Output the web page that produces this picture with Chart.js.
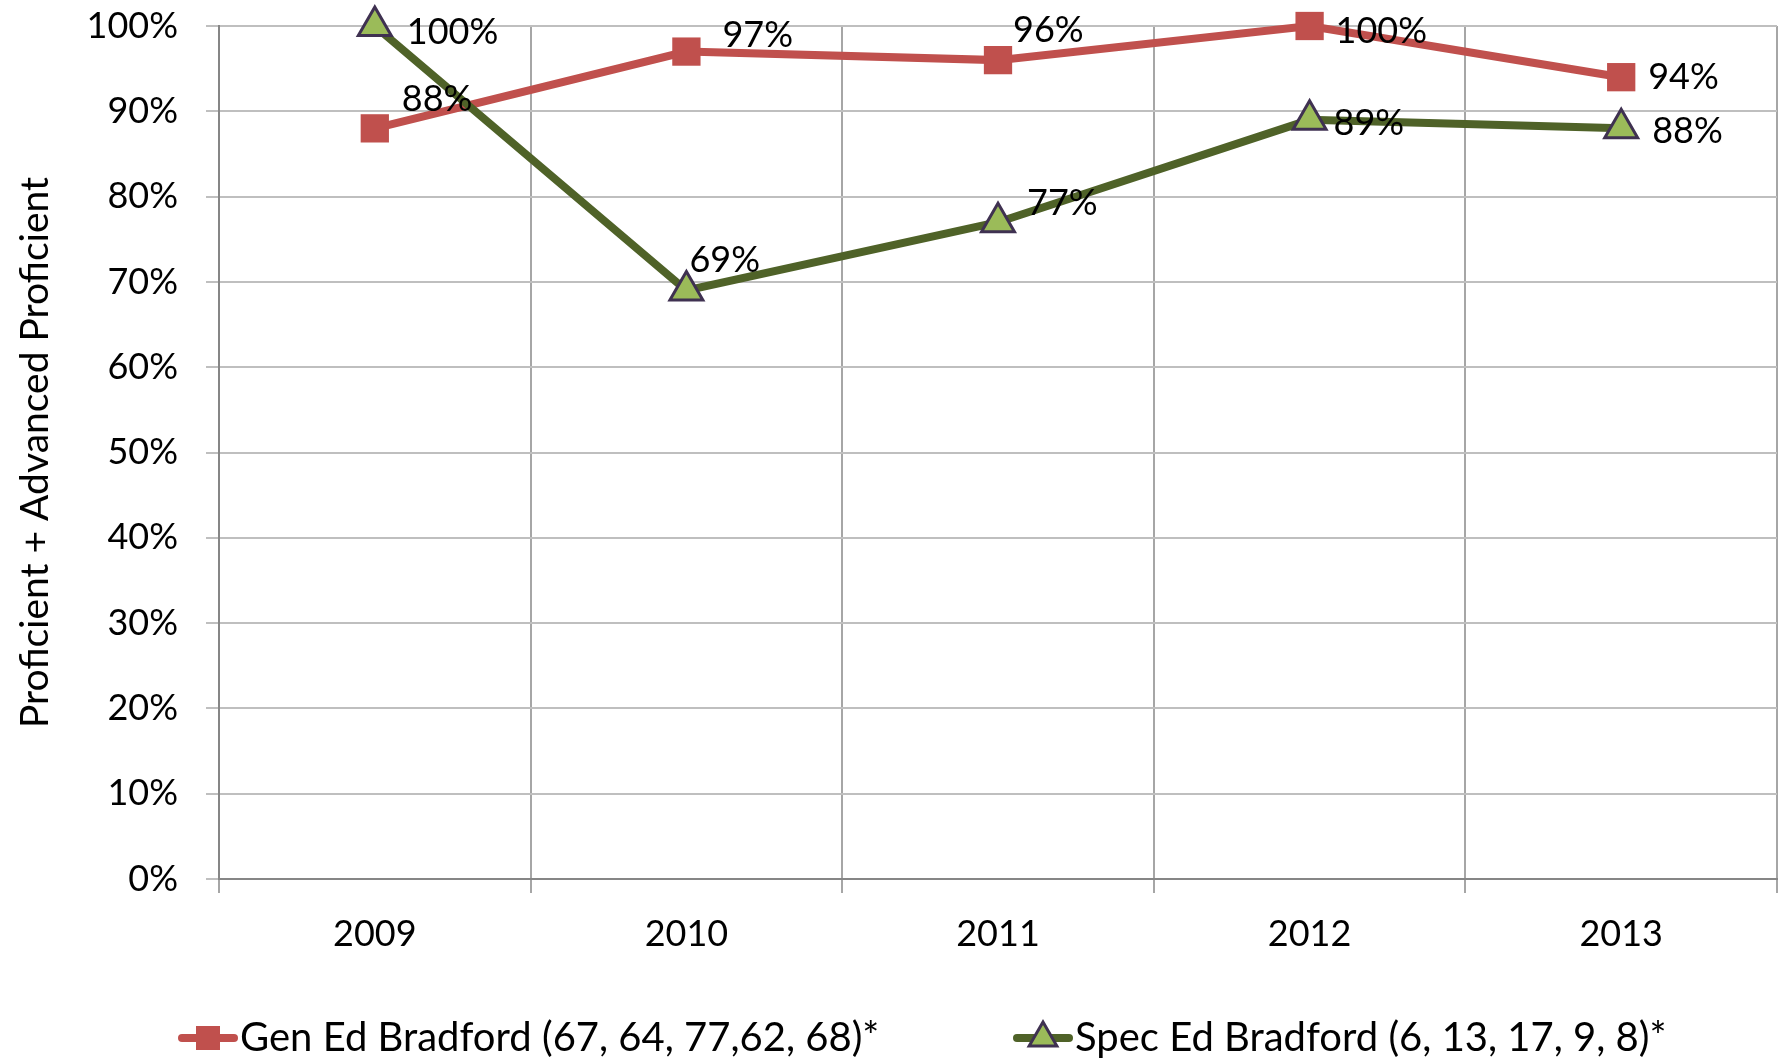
<!DOCTYPE html>
<html>
<head>
<meta charset="utf-8">
<script src="https://cdn.jsdelivr.net/npm/chart.js@4.4.1/dist/chart.umd.min.js"></script>
<style>
  html, body { margin: 0; padding: 0; background: #fff; }
  #wrap { width: 1780px; height: 1061px; }
</style>
</head>
<body>
<div id="wrap"><canvas id="chart" width="1780" height="1061"></canvas></div>
<script>
// values
const years = ['2009', '2010', '2011', '2012', '2013'];
const genEd = [88, 97, 96, 100, 94];
const specEd = [100, 69, 77, 89, 88];
const genLabel = 'Gen Ed Bradford (67, 64, 77,62, 68)*';
const specLabel = 'Spec Ed Bradford (6, 13, 17, 9, 8)*';
const yTitle = 'Proficient + Advanced Proficient';

// small nudges for the value labels (px, relative to the point)
const genShiftX = [27, 36, 15, 26, 27];
const genShiftY = [-29, -16, -30, 5, 0];
const specShiftX = [32, 3, 29, 24, 31];
const specShiftY = [6, -30, -19, 4, 3];

const FONT = 'Lato, Carlito, Calibri, sans-serif';
const RED = '#C0504D';
const GREEN_LINE = '#4F6228';
const GREEN_FILL = '#9BBB59';
const PURPLE = '#3F3151';

// value labels next to each point
const valueLabels = {
  id: 'valueLabels',
  afterDatasetsDraw(chart) {
    const ctx = chart.ctx;
    ctx.save();
    ctx.font = '36px ' + FONT;
    ctx.fillStyle = '#000';
    ctx.textAlign = 'left';
    ctx.textBaseline = 'middle';
    chart.data.datasets.forEach((ds, i) => {
      chart.getDatasetMeta(i).data.forEach((pt, j) => {
        ctx.fillText(ds.data[j] + '%', pt.x + ds.shiftX[j], pt.y + ds.shiftY[j]);
      });
    });
    ctx.restore();
  }
};

// legend row at the bottom, line + marker like the office legend
const legendStart = [178, 1013];
const legendY = 1038;
const bottomLegend = {
  id: 'bottomLegend',
  afterDraw(chart) {
    const ctx = chart.ctx;
    ctx.save();
    chart.data.datasets.forEach((ds, i) => {
      const x = legendStart[i];
      ctx.strokeStyle = ds.borderColor;
      ctx.lineWidth = 8;
      ctx.lineCap = 'round';
      ctx.beginPath();
      ctx.moveTo(x + 4, legendY);
      ctx.lineTo(x + 56, legendY);
      ctx.stroke();
      const cx = x + 30;
      if (ds.pointStyle === 'rect') {
        ctx.fillStyle = ds.pointBackgroundColor;
        ctx.fillRect(cx - 12, legendY - 12, 24, 24);
      } else {
        const r = 16;
        ctx.beginPath();
        ctx.moveTo(cx, legendY - r);
        ctx.lineTo(cx + r * 0.866, legendY + r / 2);
        ctx.lineTo(cx - r * 0.866, legendY + r / 2);
        ctx.closePath();
        ctx.fillStyle = ds.pointBackgroundColor;
        ctx.fill();
        ctx.strokeStyle = ds.pointBorderColor;
        ctx.lineWidth = 3;
        ctx.lineJoin = 'miter';
        ctx.stroke();
      }
      ctx.fillStyle = '#000';
      ctx.font = '40px ' + FONT;
      ctx.textAlign = 'left';
      ctx.textBaseline = 'middle';
      ctx.fillText(ds.label, x + 62, legendY);
    });
    ctx.restore();
  }
};

const data = {
  labels: years,
  datasets: [
    {
      label: genLabel,
      data: genEd,
      borderColor: RED,
      backgroundColor: RED,
      borderWidth: 8,
      pointStyle: 'rect',
      pointRadius: 20,
      pointBackgroundColor: RED,
      pointBorderColor: RED,
      pointBorderWidth: 0,
      tension: 0,
      clip: false,
      order: 1,
      shiftX: genShiftX,
      shiftY: genShiftY
    },
    {
      label: specLabel,
      data: specEd,
      borderColor: GREEN_LINE,
      backgroundColor: GREEN_FILL,
      borderWidth: 8,
      pointStyle: 'triangle',
      pointRadius: 19,
      pointBackgroundColor: GREEN_FILL,
      pointBorderColor: PURPLE,
      pointBorderWidth: 3,
      tension: 0,
      clip: false,
      order: 0,
      shiftX: specShiftX,
      shiftY: specShiftY
    }
  ]
};

const config = {
  type: 'line',
  data,
  options: {
    responsive: false,
    animation: false,
    devicePixelRatio: 1,
    layout: { autoPadding: false, padding: { top: 26, right: 3, left: 0, bottom: 0 } },
    plugins: {
      legend: { display: false },
      tooltip: { enabled: false }
    },
    scales: {
      x: {
        offset: true,
        afterFit: (scale) => {
          scale.height = 182;
          scale.paddingLeft = 0;
          scale.paddingRight = 0;
        },
        grid: {
          offset: true,
          color: '#A6A6A6',
          lineWidth: 2,
          tickLength: 14,
          tickColor: '#A6A6A6'
        },
        border: { color: '#868686', width: 2 },
        ticks: {
          color: '#000',
          font: { family: FONT, size: 36 },
          padding: 20,
          maxRotation: 0
        }
      },
      y: {
        min: 0,
        max: 100,
        afterFit: (scale) => {
          scale.width = 219;
          scale.paddingTop = 0;
          scale.paddingBottom = 0;
        },
        grid: {
          color: '#BFBFBF',
          lineWidth: 2,
          tickLength: 13,
          tickColor: '#BFBFBF'
        },
        border: { color: '#868686', width: 2 },
        ticks: {
          stepSize: 10,
          color: '#000',
          font: { family: FONT, size: 36 },
          padding: 28,
          callback: (v) => v + '%'
        },
        title: {
          display: true,
          text: yTitle,
          color: '#000',
          font: { family: FONT, size: 39 },
          padding: { top: 12, bottom: 0 }
        }
      }
    }
  },
  plugins: [valueLabels, bottomLegend]
};

new Chart(document.getElementById('chart'), config);
</script>
</body>
</html>
